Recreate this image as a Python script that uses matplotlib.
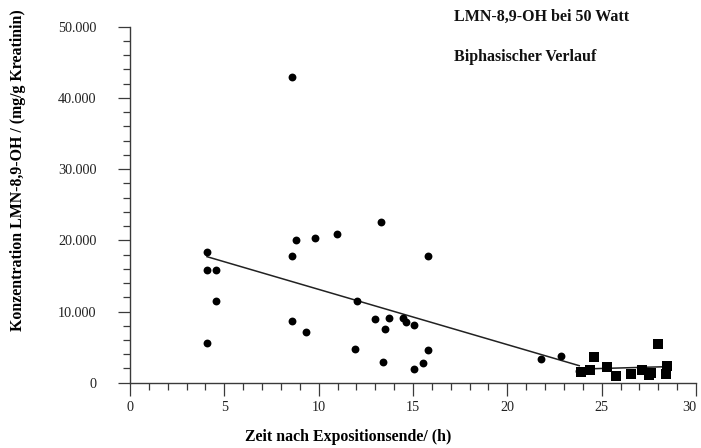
import matplotlib
matplotlib.use("Agg")
import matplotlib.pyplot as plt
from matplotlib.ticker import FuncFormatter, MultipleLocator

# Early phase (circles): time after end of exposure (h) and concentration
early_time = [4.08, 4.08, 4.56, 4.56, 4.08, 8.58, 8.78, 9.79, 10.95, 13.33,
              8.58, 9.34, 12.05, 11.94, 12.99, 13.74, 13.51, 13.42, 8.58,
              15.82, 14.45, 14.61, 15.07, 15.78, 15.53, 15.07, 21.76, 22.87, 23.8]
early_conc = [18360, 15800, 15800, 11500, 5600, 17750, 20100, 20300, 20900, 22570,
              8670, 7070, 11430, 4780, 9000, 9130, 7540, 2900, 42980,
              17750, 9040, 8570, 8150, 4640, 2810, 1970, 3330, 3800, 1700]

# Late phase (squares)
late_time = [23.88, 24.38, 24.59, 25.26, 25.76, 26.55, 27.12, 27.52, 27.6,
             27.96, 28.44, 28.4]
late_conc = [1550, 1780, 3570, 2250, 940, 1180, 1780, 1080, 1400,
             5390, 2390, 1180]

# Regression lines of the two phases
fit1_time = [4.08, 23.81]
fit1_conc = [17700, 2390]
fit2_time = [23.93, 28.44]
fit2_conc = [1920, 2250]

x_major = [0, 5, 10, 15, 20, 25, 30]
y_major = [0, 10000, 20000, 30000, 40000, 50000]

plt.rcParams["font.family"] = ["Liberation Serif", "DejaVu Serif"]

fig = plt.figure(figsize=(7.01, 4.48), dpi=100)
ax = fig.add_axes([130 / 701, 1 - 382.7 / 448, 566 / 701, 356 / 448])

ink = "#3a3a3a"
ax.plot(fit1_time, fit1_conc, color="#222222", lw=1.1, zorder=2)
ax.plot(fit2_time, fit2_conc, color="#222222", lw=1.1, zorder=2)
ax.scatter(early_time, early_conc, s=32, marker="o", color="black",
           linewidths=0, zorder=3, clip_on=False)
ax.scatter(late_time, late_conc, s=42, marker="s", color="black",
           linewidths=0, zorder=3, clip_on=False)

ax.set_xlim(0, 30)
ax.set_ylim(0, 50000)
ax.set_xticks(x_major)
ax.set_yticks(y_major)
ax.xaxis.set_minor_locator(MultipleLocator(1))
ax.yaxis.set_minor_locator(MultipleLocator(2000))


def german_thousands(v, pos):
    if v == 0:
        return "0"
    return f"{int(round(v)):,}".replace(",", ".")


ax.yaxis.set_major_formatter(FuncFormatter(german_thousands))

for side in ("top", "right"):
    ax.spines[side].set_visible(False)
for side in ("left", "bottom"):
    ax.spines[side].set_color(ink)
    ax.spines[side].set_linewidth(1.0)

ax.tick_params(axis="both", which="major", direction="out", length=9,
               width=0.9, color=ink, labelsize=10.2, labelcolor="#222222")
ax.tick_params(axis="both", which="minor", direction="out", length=5,
               width=0.9, color=ink)
ax.tick_params(axis="y", which="major", pad=15)
ax.tick_params(axis="x", which="major", pad=4)

# keep the last x tick label inside the canvas
fig.canvas.draw()
ax.get_xticklabels()[-1].set_ha("right")

ax.set_xlabel("Zeit nach Expositionsende/ (h)", fontsize=11.4,
              fontweight="bold")
ax.set_ylabel("Konzentration LMN-8,9-OH / (mg/g Kreatinin)", fontsize=11.4,
              fontweight="bold")
ax.yaxis.set_label_coords(-112 / 566, (382.7 - 170) / 356)
ax.xaxis.set_label_coords((348 - 130) / 566, -(437 - 382.7) / 356)
ax.xaxis.label.set_va("center")
ax.yaxis.label.set_va("center")

fig.text(454 / 701, 1 - 17 / 448, "LMN-8,9-OH bei 50 Watt", fontsize=11.5,
         fontweight="bold", va="center", ha="left", color="#111111")
fig.text(454 / 701, 1 - 57 / 448, "Biphasischer Verlauf", fontsize=11.5,
         fontweight="bold", va="center", ha="left", color="#111111")

fig.savefig("out.png", dpi=100)
